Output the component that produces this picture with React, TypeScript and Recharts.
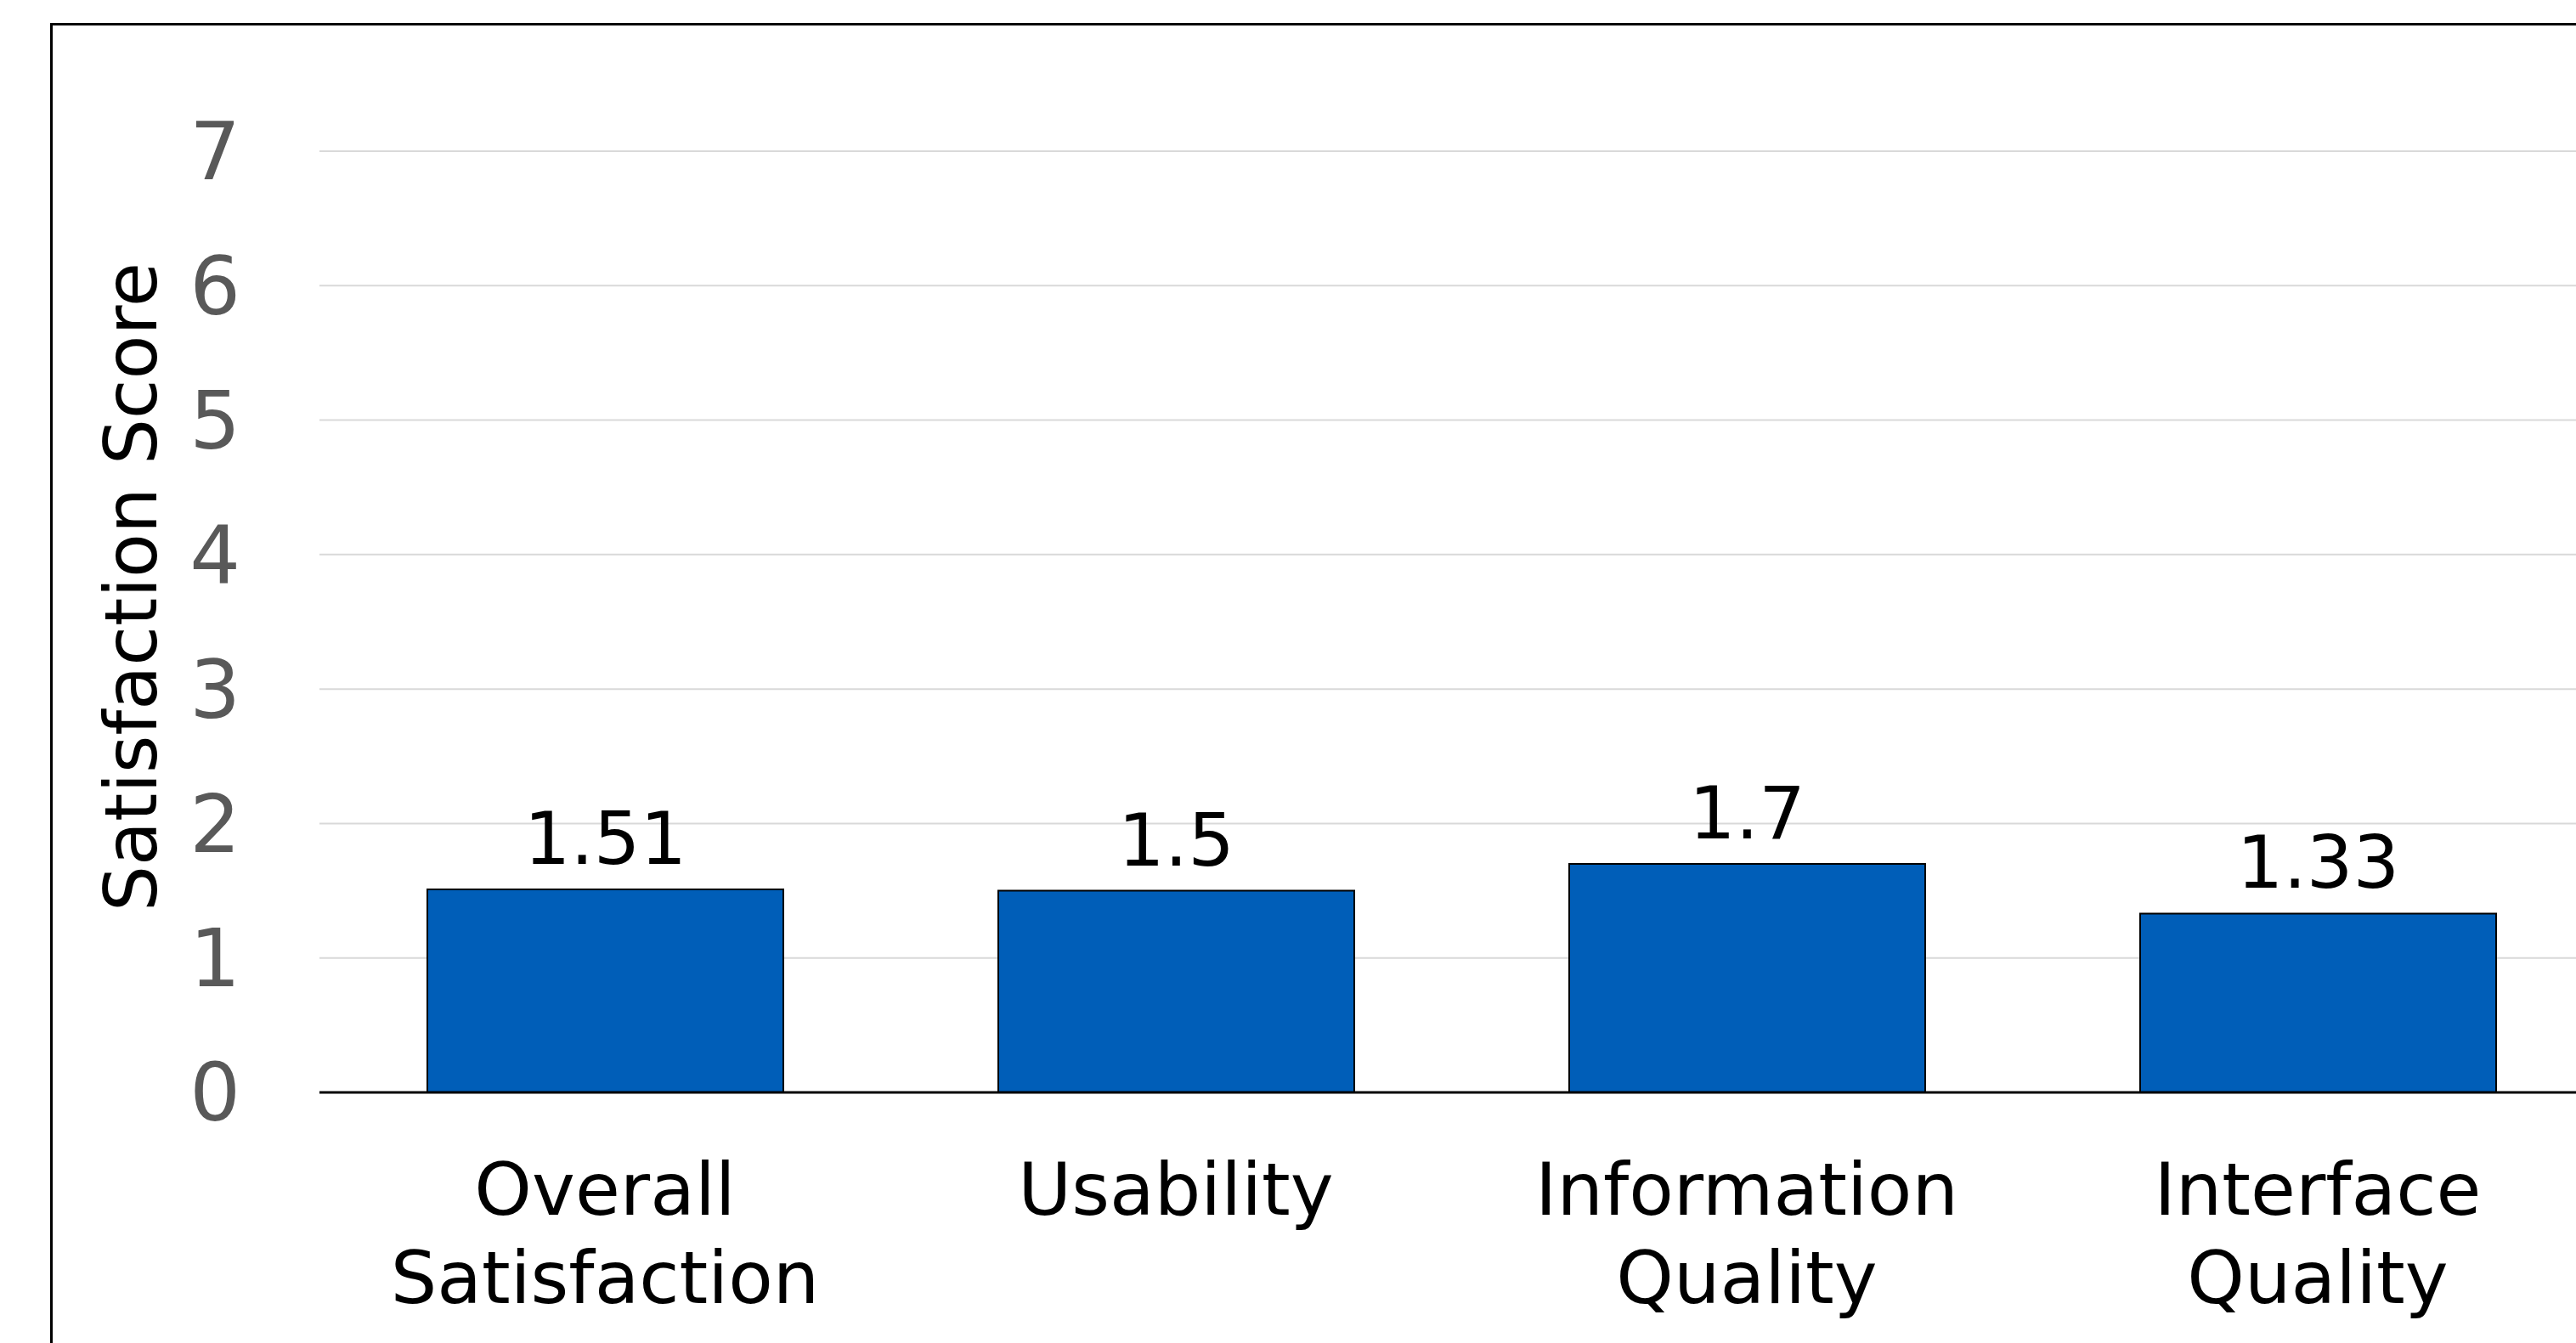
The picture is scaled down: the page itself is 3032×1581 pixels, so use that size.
import { BarChart, Bar, XAxis, YAxis, CartesianGrid, LabelList } from 'recharts';

const categories = ['Overall Satisfaction', 'Usability', 'Information Quality', 'Interface Quality'];
const scores = [1.51, 1.5, 1.7, 1.33];
const yTicks = [0, 1, 2, 3, 4, 5, 6, 7];

const chartData = categories.map((name, i) => ({ name, score: scores[i] }));

const FONT = '"DejaVu Sans", Verdana, sans-serif';

// two-line category labels under the axis
function CategoryTick(props: any) {
  const { x, y, payload } = props;
  const lines = String(payload.value).split(' ');
  return (
    <text x={x} y={y} textAnchor="middle" fontFamily={FONT} fontSize={86} fill="#000">
      {lines.map((line: string, i: number) => (
        <tspan key={i} x={x} dy={i === 0 ? 142 : 104}>
          {line}
        </tspan>
      ))}
    </text>
  );
}

function AxisTitle() {
  return (
    <text
      x={184}
      y={691}
      transform="rotate(-90 184 691)"
      textAnchor="middle"
      fontFamily={FONT}
      fontSize={85}
      fill="#000"
    >
      Satisfaction Score
    </text>
  );
}

export default function App() {
  return (
    <div
      style={{
        position: 'fixed',
        left: 0,
        top: 0,
        width: 3032,
        height: 1581,
        overflow: 'hidden',
        background: '#fff',
      }}
    >
      <div
        style={{
          position: 'absolute',
          left: 59,
          top: 27,
          width: 3200,
          height: 1800,
          border: '3px solid #000',
        }}
      />
      <div style={{ position: 'absolute', left: 0, top: 0 }}>
        <BarChart
          width={3100}
          height={1650}
          data={chartData}
          margin={{ top: 178, right: 36, bottom: 0, left: 0 }}
          barSize={419}
        >
          <CartesianGrid vertical={false} stroke="#d9d9d9" strokeWidth={2} />
          <XAxis
            dataKey="name"
            height={364}
            axisLine={{ stroke: '#000', strokeWidth: 3 }}
            tickLine={false}
            tickSize={0}
            tick={<CategoryTick />}
            interval={0}
          />
          <YAxis
            width={376}
            domain={[0, 7]}
            ticks={yTicks}
            axisLine={false}
            tickLine={false}
            tickSize={0}
            tickMargin={93}
            tick={{ fontSize: 94, fill: '#595959', fontFamily: FONT }}
          />
          <Bar dataKey="score" fill="#005EB8" stroke="#000" strokeWidth={2} isAnimationActive={false}>
            <LabelList
              dataKey="score"
              position="top"
              offset={30}
              fontSize={86}
              fill="#000"
              fontFamily={FONT}
            />
          </Bar>
          <AxisTitle />
        </BarChart>
      </div>
    </div>
  );
}
